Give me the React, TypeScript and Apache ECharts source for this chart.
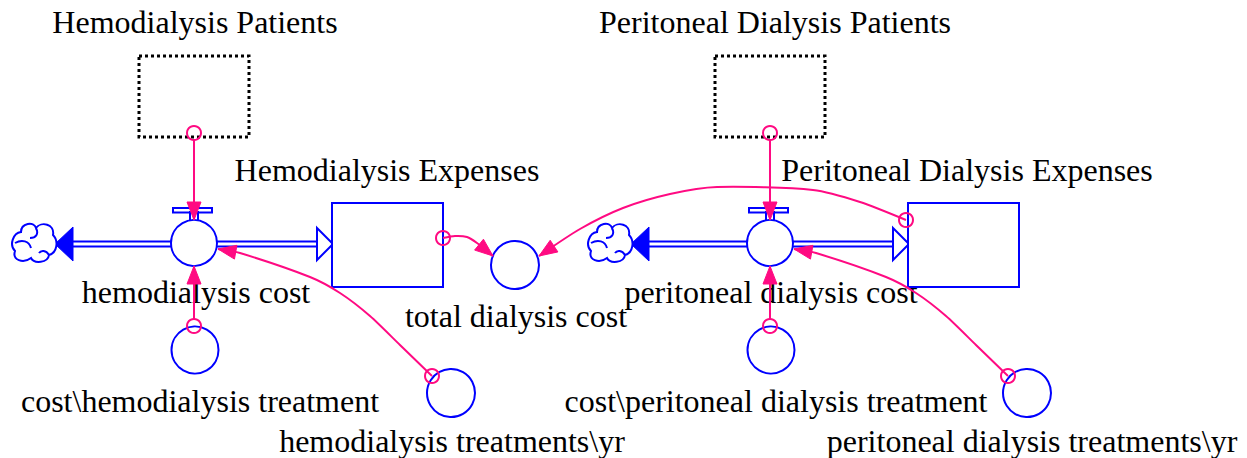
import React, { useEffect, useRef } from "react";
import * as echarts from "echarts";

// ---- diagram content (texts) ----
const patientLabels = ["Hemodialysis Patients", "Peritoneal Dialysis Patients"];
const stockLabels = ["Hemodialysis Expenses", "Peritoneal Dialysis Expenses"];
const flowLabels = ["hemodialysis cost", "peritoneal dialysis cost"];
const unitCostLabels = ["cost\\hemodialysis treatment", "cost\\peritoneal dialysis treatment"];
const rateLabels = ["hemodialysis treatments\\yr", "peritoneal dialysis treatments\\yr"];
const totalLabel = "total dialysis cost";

// ---- layout ----
const MODULE_DX = [0, 576];
const LABEL_X = {
  patient: [195, 775],
  stock: [387, 967],
  flow: [196, 771],
  unitCost: [200, 776],
  rate: [452, 1032],
};

const BLUE = "#0000ff";
const PINK = "#ff0a82";
const FONT = '"Liberation Serif", "Times New Roman", Times, serif';
const FS = 32;

const CLOUD_D =
  "M9 10 C9 1 22 -1 24 6 C29 -1 43 2 41 13 C47 19 45 31 37 33 C36 41 22 42 19 36 C11 42 0 38 3 29 C-3 23 1 11 9 10 Z M3 21 C10 17 17 19 19 26 M24 6 C27 12 24 16 18 16 M37 33 C34 28 29 28 27 31";
echarts.graphic.registerShape("cloud", echarts.graphic.extendPath(CLOUD_D, {}));

type P = [number, number];

function txt(str: string, cx: number, baseline: number) {
  return {
    type: "text",
    x: cx,
    y: baseline - 11,
    silent: true,
    style: {
      text: str,
      fill: "#000",
      fontSize: FS,
      fontFamily: FONT,
      align: "center",
      verticalAlign: "middle",
      textAlign: "center",
      textVerticalAlign: "middle",
    },
  };
}

function line(x1: number, y1: number, x2: number, y2: number, stroke: string, w = 2) {
  return { type: "line", silent: true, shape: { x1, y1, x2, y2 }, style: { stroke, lineWidth: w } };
}

function circle(cx: number, cy: number, r: number, stroke: string, fill = "#fff") {
  return { type: "circle", silent: true, shape: { cx, cy, r }, style: { stroke, fill, lineWidth: 2 } };
}

function arrowHead(tip: P, from: P, L = 18, W = 7) {
  const dx = tip[0] - from[0];
  const dy = tip[1] - from[1];
  const len = Math.hypot(dx, dy) || 1;
  const ux = dx / len;
  const uy = dy / len;
  const bx = tip[0] - L * ux;
  const by = tip[1] - L * uy;
  const nx = -uy;
  const ny = ux;
  return {
    type: "polygon",
    silent: true,
    shape: { points: [tip, [bx + W * nx, by + W * ny], [bx - W * nx, by - W * ny]] },
    style: { fill: PINK, stroke: PINK, lineWidth: 1 },
  };
}

function link(points: P[], smooth = 0.25) {
  const n = points.length;
  return [
    {
      type: "polyline",
      silent: true,
      shape: { points, smooth },
      style: { stroke: PINK, fill: null, lineWidth: 2 },
    },
    arrowHead(points[n - 1], points[n - 2]),
  ];
}

function buildElements() {
  const texts: any[] = [];
  const shapes: any[] = [];
  const links: any[] = [];

  MODULE_DX.forEach((dx, i) => {
    // labels
    texts.push(txt(patientLabels[i], LABEL_X.patient[i], 33));
    texts.push(txt(stockLabels[i], LABEL_X.stock[i], 181));
    texts.push(txt(flowLabels[i], LABEL_X.flow[i], 303));
    texts.push(txt(unitCostLabels[i], LABEL_X.unitCost[i], 412));
    texts.push(txt(rateLabels[i], LABEL_X.rate[i], 452));

    // dotted patients box
    shapes.push({
      type: "rect",
      silent: true,
      shape: { x: 139 + dx, y: 56, width: 110, height: 81 },
      style: { stroke: "#000", fill: null, lineWidth: 3, lineDash: [3, 3] },
    });

    // pipes
    shapes.push(line(72 + dx, 241.5, 174 + dx, 241.5, BLUE));
    shapes.push(line(72 + dx, 246.5, 174 + dx, 246.5, BLUE));
    shapes.push(line(214 + dx, 241.5, 317 + dx, 241.5, BLUE));
    shapes.push(line(214 + dx, 246.5, 317 + dx, 246.5, BLUE));
    shapes.push({
      type: "polygon",
      silent: true,
      shape: { points: [[55 + dx, 244], [73 + dx, 227], [73 + dx, 261]] },
      style: { fill: BLUE, stroke: BLUE, lineWidth: 1 },
    });
    shapes.push({
      type: "polygon",
      silent: true,
      shape: { points: [[317 + dx, 228], [333 + dx, 244], [317 + dx, 260]] },
      style: { fill: "#fff", stroke: BLUE, lineWidth: 2 },
    });
    // cloud
    shapes.push({
      type: "cloud",
      silent: true,
      x: 12 + dx,
      y: 222,
      style: { stroke: BLUE, fill: "#fff", lineWidth: 2 },
    });
    // stock
    shapes.push({
      type: "rect",
      silent: true,
      shape: { x: 332 + dx, y: 203, width: 111, height: 84 },
      style: { stroke: BLUE, fill: "#fff", lineWidth: 2 },
    });
    // valve
    shapes.push({
      type: "rect",
      silent: true,
      shape: { x: 173 + dx, y: 208, width: 39, height: 4.5 },
      style: { stroke: BLUE, fill: "#fff", lineWidth: 2 },
    });
    shapes.push({
      type: "rect",
      silent: true,
      shape: { x: 190 + dx, y: 212, width: 8, height: 10 },
      style: { stroke: BLUE, fill: "#fff", lineWidth: 2 },
    });
    shapes.push(circle(194 + dx, 243, 23, BLUE));
    // converters
    shapes.push(circle(195 + dx, 350, 23.5, BLUE));
    shapes.push(circle(451 + dx, 393, 24, BLUE));

    // connectors
    const conn: P[] = [
      [194 + dx, 133],
      [194 + dx, 326],
      [432 + dx, 376],
    ];
    conn.forEach((c) => links.push(circle(c[0], c[1], 7, PINK, "rgba(0,0,0,0)")));
    links.push(...link([[194 + dx, 140], [194 + dx, 220]], 0));
    links.push(...link([[194 + dx, 319], [194 + dx, 266]], 0));
    links.push(
      ...link([
        [432 + dx, 376],
        [400 + dx, 345],
        [370 + dx, 316],
        [340 + dx, 293],
        [310 + dx, 277],
        [240 + dx, 253],
        [218 + dx, 249],
      ])
    );
  });

  // total dialysis cost
  texts.push(txt(totalLabel, 516, 327));
  shapes.push(circle(515, 265, 24, BLUE));

  // stock -> total links
  links.push(circle(443, 238, 7, PINK, "rgba(0,0,0,0)"));
  links.push(...link([[443, 238], [455, 236], [467, 237], [477, 243], [493, 256]]));
  links.push(circle(906, 220, 7, PINK, "rgba(0,0,0,0)"));
  links.push(
    ...link([
      [906, 220],
      [860, 202],
      [813, 190],
      [717, 187],
      [670, 194],
      [623, 208],
      [580, 229],
      [539, 256],
    ])
  );

  return [...texts, ...shapes, ...links];
}

export default function App() {
  const ref = useRef<HTMLDivElement>(null);
  useEffect(() => {
    if (!ref.current) return;
    const chart = echarts.init(ref.current, null, { renderer: "svg", width: 1247, height: 458 });
    chart.setOption({ animation: false, graphic: { elements: buildElements() } });
    return () => chart.dispose();
  }, []);
  return (
    <div
      ref={ref}
      style={{ position: "absolute", left: 0, top: 0, width: 1247, height: 458, background: "#fff" }}
    />
  );
}
